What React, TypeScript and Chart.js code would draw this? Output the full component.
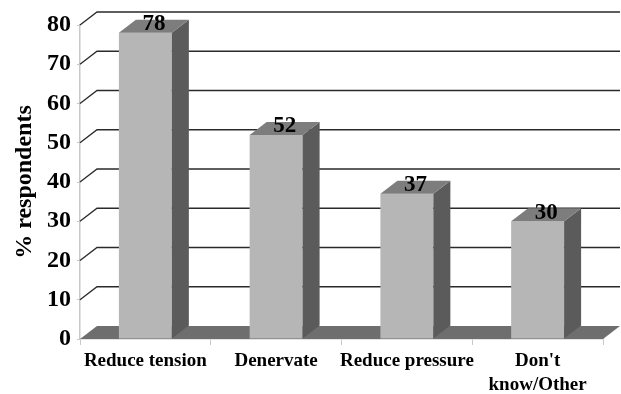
import React, { useEffect, useRef } from "react";
import { Chart, registerables } from "chart.js";

Chart.register(...registerables);

// Survey answers and share of respondents (%)
const categories: (string | string[])[] = [
  "Reduce tension",
  "Denervate",
  "Reduce pressure",
  ["Don't", "know/Other"],
];
const respondents = [78, 52, 37, 30];
const yMin = 0;
const yMax = 80;
const yStep = 10;

// Depth of the pseudo-3D extrusion (pixels to the right / upward)
const DEPTH_X = 17;
const DEPTH_Y = 13;

const SERIF = "'Liberation Serif', 'Times New Roman', serif";

const depthPlugin = {
  id: "depth3d",
  beforeDatasetsDraw(chart: any) {
    const { ctx, chartArea, scales } = chart;
    const y = scales.y;
    const { left, right, bottom } = chartArea;
    ctx.save();
    // floor slab
    ctx.fillStyle = "#6e6e6e";
    ctx.beginPath();
    ctx.moveTo(left, bottom);
    ctx.lineTo(right, bottom);
    ctx.lineTo(right + DEPTH_X, bottom - DEPTH_Y);
    ctx.lineTo(left + DEPTH_X, bottom - DEPTH_Y);
    ctx.closePath();
    ctx.fill();
    // back-wall grid lines with their diagonal run from the axis
    ctx.strokeStyle = "#2a2a2a";
    ctx.lineWidth = 1.3;
    for (let v = yMin + yStep; v <= yMax; v += yStep) {
      const py = y.getPixelForValue(v);
      ctx.beginPath();
      ctx.moveTo(left, py);
      ctx.lineTo(left + DEPTH_X, py - DEPTH_Y);
      ctx.lineTo(right + DEPTH_X, py - DEPTH_Y);
      ctx.stroke();
    }
    ctx.restore();
  },
  afterDatasetsDraw(chart: any) {
    const { ctx } = chart;
    const meta = chart.getDatasetMeta(0);
    const values = chart.data.datasets[0].data as number[];
    ctx.save();
    meta.data.forEach((bar: any, i: number) => {
      const { x, y, width, base } = bar.getProps(["x", "y", "width", "base"], true);
      const l = x - width / 2;
      const r = x + width / 2;
      // side face
      ctx.fillStyle = "#5b5b5b";
      ctx.beginPath();
      ctx.moveTo(r, y);
      ctx.lineTo(r + DEPTH_X, y - DEPTH_Y);
      ctx.lineTo(r + DEPTH_X, base - DEPTH_Y);
      ctx.lineTo(r, base);
      ctx.closePath();
      ctx.fill();
      // top face
      ctx.fillStyle = "#7d7d7d";
      ctx.beginPath();
      ctx.moveTo(l, y);
      ctx.lineTo(l + DEPTH_X, y - DEPTH_Y);
      ctx.lineTo(r + DEPTH_X, y - DEPTH_Y);
      ctx.lineTo(r, y);
      ctx.closePath();
      ctx.fill();
      // value label
      ctx.fillStyle = "#000";
      ctx.font = `bold 23px ${SERIF}`;
      ctx.textAlign = "center";
      ctx.textBaseline = "alphabetic";
      ctx.fillText(String(values[i]), x + DEPTH_X / 2, y - 2.5);
    });
    ctx.restore();
  },
};

export default function App() {
  const ref = useRef<HTMLCanvasElement>(null);

  useEffect(() => {
    if (!ref.current) return;
    const chart = new Chart(ref.current, {
      type: "bar",
      data: {
        labels: categories,
        datasets: [
          {
            data: respondents,
            backgroundColor: "#b6b6b6",
            borderWidth: 0,
            categoryPercentage: 1,
            barPercentage: 0.405,
          },
        ],
      },
      options: {
        responsive: false,
        animation: false,
        layout: { padding: { top: 25, right: 18, left: 0, bottom: 0 } },
        plugins: {
          legend: { display: false },
          tooltip: { enabled: false },
        },
        scales: {
          x: {
            afterFit: (s: any) => {
              s.height = 55;
            },
            border: { color: "#c8c8c8", width: 1.5 },
            grid: {
              display: true,
              drawOnChartArea: false,
              drawTicks: true,
              tickLength: 6,
              color: "#c8c8c8",
            },
            ticks: {
              color: "#000",
              padding: 5,
              maxRotation: 0,
              autoSkip: false,
              font: { family: SERIF, weight: "bold", size: 19, lineHeight: 1.22 },
            },
          },
          y: {
            min: yMin,
            max: yMax,
            afterFit: (s: any) => {
              s.width = 80;
            },
            border: { color: "#c8c8c8", width: 1.5 },
            grid: {
              display: true,
              drawOnChartArea: false,
              drawTicks: true,
              tickLength: 3,
              color: "#c8c8c8",
            },
            ticks: {
              stepSize: yStep,
              color: "#000",
              padding: 6,
              font: { family: SERIF, weight: "bold", size: 24 },
            },
            title: {
              display: true,
              text: "% respondents",
              color: "#000",
              padding: { top: 10, bottom: 0 },
              font: { family: SERIF, weight: "bold", size: 24, lineHeight: 1.2 },
            },
          },
        },
      },
      plugins: [depthPlugin],
    });
    return () => chart.destroy();
  }, []);

  return (
    <div style={{ position: "absolute", left: 0, top: 0, width: 621, height: 394, background: "#fff" }}>
      <canvas ref={ref} width={621} height={394} />
    </div>
  );
}
